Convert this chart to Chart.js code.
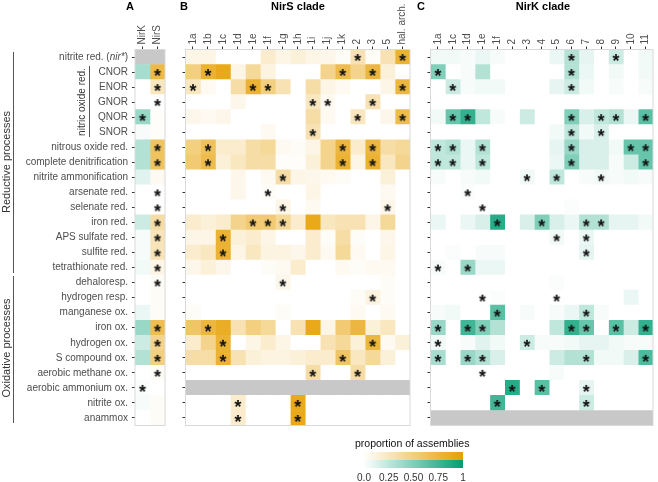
<!DOCTYPE html>
<html>
<head>
<meta charset="utf-8">
<script src="https://cdn.jsdelivr.net/npm/chart.js@4.4.0/dist/chart.umd.min.js"></script>
<style>
  body { margin: 0; background: #fff; font-family: "Liberation Sans", Arial, sans-serif; }
  #wrap { position: relative; width: 658px; height: 482px; overflow: hidden; }
  canvas { position: absolute; top: 0; }
  .txt { position: absolute; white-space: nowrap; line-height: 12px; }
  .title { font-weight: bold; font-size: 11px; color: #000; }
  .side { font-size: 11px; color: #333; transform: translate(-50%, -50%) rotate(-90deg); }
  .vline { position: absolute; width: 1px; background: #555; }
  .bar { position: absolute; left: 357px; width: 106px; height: 8px; }
</style>
</head>
<body>
<div id="wrap">
  <canvas id="panelA" width="170" height="482" style="left:0"></canvas>
  <canvas id="panelB" width="245" height="482" style="left:170px"></canvas>
  <canvas id="panelC" width="243" height="482" style="left:415px"></canvas>

  <div class="txt title" style="left:126px; top:0">A</div>
  <div class="txt title" style="left:180px; top:0">B</div>
  <div class="txt title" style="left:417px; top:0">C</div>
  <div class="txt title" style="left:298px; top:0; transform:translateX(-50%)">NirS clade</div>
  <div class="txt title" style="left:543px; top:0; transform:translateX(-50%)">NirK clade</div>

  <div class="txt side" style="left:6px; top:162px">Reductive processes</div>
  <div class="vline" style="left:13px; top:52px; height:221px"></div>
  <div class="txt side" style="left:6px; top:348px">Oxidative processes</div>
  <div class="vline" style="left:13px; top:276px; height:147px"></div>
  <div class="txt side" style="left:82px; top:102px; font-size:10px">nitric oxide red.</div>
  <div class="vline" style="left:89px; top:66px; height:71px"></div>

  <div class="txt" style="left:355px; top:437px; font-size:10.5px; color:#111">proportion of assemblies</div>
  <div class="bar" style="top:452px; background:linear-gradient(to right, #fff 6%, #E69F00)"></div>
  <div class="bar" style="top:460px; background:linear-gradient(to right, #fff 6%, #009E73)"></div>
  <div id="legendTicks"></div>
</div>

<script>
// rows of every panel
const processes = [
  "nitrite red. (nir*)", "CNOR", "ENOR", "GNOR", "QNOR", "SNOR",
  "nitrous oxide red.", "complete denitrification", "nitrite ammonification",
  "arsenate red.", "selenate red.", "iron red.", "APS sulfate red.", "sulfite red.",
  "tetrathionate red.", "dehaloresp.", "hydrogen resp.", "manganese ox.", "iron ox.",
  "hydrogen ox.", "S compound ox.", "aerobic methane ox.", "aerobic ammonium ox.",
  "nitrite ox.", "anammox"
];

// panel A: NirK / NirS totals (null = not available)
const totalCols = ["NirK", "NirS"];
const nirkTotal = [null, 0.35, 0, 0, 0.4, 0.03, 0.3, 0.3, 0.12, 0, 0, 0.2, 0.03, 0.03, 0.05, 0, 0, 0.08, 0.4, 0.2, 0.3, 0, 0.02, 0.03, 0];
const nirsTotal = [null, 0.72, 0.25, 0, 0.02, 0.02, 0.62, 0.62, 0.05, 0, 0, 0.35, 0.28, 0.28, 0.1, 0.03, 0.03, 0.03, 0.68, 0.45, 0.5, 0.03, 0, 0.03, 0.03];
const nirkTotalStars = ["QNOR", "aerobic ammonium ox."];
const nirsTotalStars = ["CNOR", "ENOR", "GNOR", "nitrous oxide red.", "complete denitrification",
  "arsenate red.", "selenate red.", "iron red.", "APS sulfate red.", "sulfite red.",
  "tetrathionate red.", "dehaloresp.", "iron ox.", "hydrogen ox.", "S compound ox.", "aerobic methane ox."];

// panel B: NirS clades
const nirsClades = ["1a", "1b", "1c", "1d", "1e", "1f", "1g", "1h", "1i", "1j", "1k", "2", "3", "5", "hal. arch."];
const nirsCladeValues = [
  [0.1, 0.1, 0, 0, 0, 0.2, 0.1, 0.15, 0.1, 0.08, 0.03, 0.3, 0.03, 0.3, 0.8],
  [0.5, 0.8, 0.9, 0.1, 0.4, 0.12, 0, 0, 0, 0.45, 0.7, 0.45, 0.75, 0.15, 0],
  [0.25, 0.05, 0, 0.35, 0.8, 0.5, 0.3, 0, 0.35, 0.1, 0.05, 0, 0, 0.1, 0.75],
  [0, 0, 0, 0.08, 0, 0, 0, 0, 0.25, 0.05, 0, 0, 0.3, 0, 0],
  [0.08, 0.05, 0.08, 0, 0, 0, 0, 0, 0.35, 0.05, 0, 0.25, 0, 0.08, 0.7],
  [0, 0, 0, 0, 0, 0.05, 0, 0, 0.3, 0, 0, 0, 0, 0, 0],
  [0.5, 0.65, 0.2, 0.2, 0.35, 0.4, 0.05, 0.03, 0.1, 0.45, 0.75, 0.2, 0.75, 0.35, 0.4],
  [0.55, 0.7, 0.15, 0.25, 0.35, 0.35, 0.02, 0.02, 0.15, 0.45, 0.8, 0.1, 0.8, 0.25, 0.45],
  [0, 0, 0, 0.08, 0, 0.05, 0.35, 0.1, 0.08, 0.05, 0.03, 0, 0, 0.15, 0],
  [0, 0, 0, 0.08, 0, 0.03, 0, 0, 0.1, 0, 0, 0, 0, 0.05, 0],
  [0, 0, 0, 0, 0, 0, 0.1, 0, 0.05, 0, 0, 0, 0, 0.08, 0],
  [0.2, 0.15, 0.2, 0.45, 0.55, 0.55, 0.4, 0.2, 0.9, 0.25, 0.3, 0.3, 0.1, 0.4, 0],
  [0.1, 0.1, 0.8, 0.15, 0.2, 0.1, 0, 0, 0.2, 0.03, 0.35, 0.03, 0, 0.08, 0],
  [0.2, 0.25, 0.8, 0.1, 0.25, 0.12, 0.12, 0.08, 0.2, 0.05, 0.4, 0.05, 0, 0.1, 0],
  [0.08, 0.15, 0.08, 0, 0, 0.03, 0.05, 0.2, 0, 0, 0.05, 0.03, 0.05, 0.05, 0],
  [0, 0, 0, 0, 0, 0, 0.08, 0, 0, 0, 0, 0, 0, 0.03, 0],
  [0, 0, 0, 0, 0, 0, 0, 0, 0, 0, 0, 0.03, 0.12, 0.03, 0],
  [0.03, 0, 0, 0, 0, 0, 0.03, 0, 0, 0, 0, 0.05, 0, 0.05, 0],
  [0.6, 0.75, 0.85, 0.3, 0.5, 0.4, 0, 0.3, 0.9, 0.1, 0.55, 0.75, 0.15, 0.25, 0],
  [0.2, 0.45, 0.8, 0, 0.1, 0.2, 0.1, 0, 0, 0.3, 0.4, 0.15, 0.75, 0.05, 0.15],
  [0.35, 0.35, 0.8, 0.3, 0.15, 0.12, 0.12, 0.15, 0.2, 0.2, 0.6, 0.25, 0.4, 0.15, 0],
  [0, 0, 0, 0, 0, 0, 0, 0, 0.35, 0, 0, 0.35, 0, 0, 0],
  null,
  [0, 0, 0, 0.2, 0, 0, 0, 0.9, 0, 0, 0, 0, 0, 0, 0],
  [0, 0, 0, 0.2, 0, 0, 0, 0.9, 0, 0, 0, 0, 0, 0, 0]
];
const nirsCladeStars = [
  ["2", "hal. arch."], ["1b", "1k", "3"], ["1a", "1e", "1f", "hal. arch."], ["1i", "1j", "3"],
  ["2", "hal. arch."], ["1i"], ["1b", "1k", "3"], ["1b", "1k", "3"], ["1g"], ["1f"], ["1g", "5"],
  ["1e", "1f", "1g"], ["1c"], ["1c"], [], ["1g"], ["3"], [], ["1b"], ["1c", "3"], ["1c", "1k"],
  ["1i", "2"], [], ["1d", "1h"], ["1d", "1h"]
];

// panel C: NirK clades
const nirkClades = ["1a", "1c", "1d", "1e", "1f", "2", "3", "4", "5", "6", "7", "8", "9", "10", "11"];
const nirkCladeValues = [
  [0.05, 0.05, 0.03, 0.08, 0.03, 0, 0, 0, 0.08, 0.3, 0.1, 0, 0.2, 0, 0.05],
  [0.5, 0, 0.03, 0.3, 0, 0, 0, 0, 0, 0.3, 0.08, 0, 0.05, 0, 0.05],
  [0, 0.2, 0.03, 0.05, 0.05, 0, 0, 0, 0.1, 0.2, 0.05, 0, 0.03, 0, 0.03],
  [0, 0, 0, 0, 0, 0, 0, 0, 0, 0, 0, 0, 0, 0, 0],
  [0.05, 0.6, 0.8, 0.25, 0.03, 0, 0.2, 0, 0, 0.5, 0.15, 0.25, 0.3, 0.08, 0.65],
  [0, 0, 0, 0, 0, 0, 0, 0, 0.05, 0.25, 0.05, 0.15, 0, 0, 0],
  [0.25, 0.3, 0.08, 0.3, 0, 0, 0, 0, 0.1, 0.4, 0.15, 0.15, 0.05, 0.6, 0.6],
  [0.25, 0.25, 0.08, 0.25, 0, 0, 0, 0, 0.08, 0.5, 0.15, 0.15, 0.03, 0.2, 0.6],
  [0.03, 0, 0.03, 0.05, 0, 0, 0.05, 0, 0.25, 0, 0.03, 0.05, 0.03, 0.05, 0.03],
  [0, 0, 0.02, 0, 0, 0, 0, 0, 0, 0, 0, 0, 0, 0, 0],
  [0, 0, 0, 0, 0, 0, 0, 0, 0, 0.02, 0, 0, 0, 0, 0],
  [0.08, 0, 0.08, 0.15, 0.85, 0, 0.15, 0.5, 0.15, 0.08, 0.3, 0.3, 0.1, 0.1, 0.05],
  [0, 0, 0, 0, 0, 0, 0, 0, 0.05, 0, 0.08, 0, 0, 0, 0],
  [0, 0.02, 0, 0.03, 0.03, 0, 0, 0, 0, 0, 0.1, 0, 0, 0, 0],
  [0.03, 0, 0.4, 0.08, 0.08, 0, 0, 0, 0, 0, 0, 0, 0, 0, 0],
  [0, 0, 0, 0, 0, 0, 0, 0, 0.02, 0, 0, 0, 0, 0, 0],
  [0, 0, 0, 0, 0.02, 0, 0, 0, 0, 0, 0, 0, 0, 0.08, 0],
  [0.03, 0.05, 0, 0, 0.65, 0, 0.03, 0, 0.03, 0.08, 0.25, 0.03, 0, 0, 0],
  [0.4, 0, 0.75, 0.5, 0.3, 0, 0, 0, 0.25, 0.8, 0.6, 0, 0.65, 0.2, 0.8],
  [0.05, 0, 0.03, 0.12, 0.05, 0, 0.2, 0.03, 0.03, 0.05, 0.1, 0.1, 0.05, 0.03, 0.03],
  [0.35, 0, 0.4, 0.3, 0.15, 0, 0, 0, 0.2, 0.3, 0.3, 0.05, 0.05, 0.15, 0.7],
  [0, 0, 0, 0, 0, 0, 0, 0, 0.03, 0, 0, 0, 0, 0, 0],
  [0, 0, 0, 0, 0, 0.85, 0, 0.65, 0, 0, 0.1, 0, 0, 0, 0],
  [0, 0, 0, 0, 0.75, 0, 0, 0, 0, 0, 0.2, 0, 0, 0, 0],
  null
];
const nirkCladeStars = [
  ["6", "9"], ["1a", "6"], ["1c", "6"], [], ["1c", "1d", "6", "8", "9", "11"], ["6", "8"],
  ["1a", "1c", "1e", "6", "10", "11"], ["1a", "1c", "1e", "6", "11"], ["3", "5", "8"], ["1d"], ["1e"],
  ["1f", "4", "7", "8"], ["5", "7"], ["7"], ["1a", "1d"], [], ["1e", "5"], ["1f", "7"],
  ["1a", "1d", "1e", "6", "7", "9", "11"], ["1a", "3"], ["1a", "1d", "1e", "7", "11"], ["1e"],
  ["2", "4", "7"], ["1f", "7"], []
];

const legendTicks = [0, 0.25, 0.5, 0.75, 1];
const legendLabels = ["0.0", "0.25", "0.50", "0.75", "1"];

const ORANGE = [230, 159, 0];
const GREEN = [0, 158, 115];
const NA_GREY = "#c8c8c8";
const FONT = "'Liberation Sans', Arial, sans-serif";
const LABEL = "#4d4d4d";

function shade(rgb, v) {
  if (v === null || v === undefined) return NA_GREY;
  const c = rgb.map(k => Math.round(255 + (k - 255) * v));
  return "rgb(" + c.join(",") + ")";
}

// asterisk marker
const starImg = document.createElement("canvas");
starImg.width = 12;
starImg.height = 12;
(function () {
  const g = starImg.getContext("2d");
  g.font = "bold 18px " + FONT;
  g.fillStyle = "#111";
  g.textAlign = "center";
  const m = g.measureText("*");
  const h = m.actualBoundingBoxAscent + m.actualBoundingBoxDescent;
  g.fillText("*", 6, 6 - h / 2 + m.actualBoundingBoxAscent);
})();

const frame = {
  id: "frame",
  afterDatasetsDraw(chart) {
    const a = chart.chartArea, g = chart.ctx;
    g.save();
    g.strokeStyle = "#d9d9d9";
    g.lineWidth = 1;
    g.strokeRect(a.left, a.top, a.right - a.left, a.bottom - a.top);
    g.restore();
  }
};

// first row label has an italic part, so it is drawn here at the scale's tick
const italicLabel = {
  id: "italicLabel",
  afterDraw(chart) {
    const y = chart.scales.y, g = chart.ctx;
    const py = y.getPixelForTick(0);
    let x = chart.chartArea.left - 7;
    g.save();
    g.fillStyle = LABEL;
    g.textBaseline = "middle";
    g.textAlign = "right";
    const parts = [["normal", ")"], ["italic", "nir*"], ["normal", "nitrite red. ("]];
    parts.forEach(([style, s]) => {
      g.font = style + " 10px " + FONT;
      g.fillText(s, x, py);
      x -= g.measureText(s).width;
    });
    g.restore();
  }
};

function heatPanel(id, cols, rows, colours, stars, yWidth, padRight, showLabels) {
  const datasets = cols.map((col, c) => ({
    type: "bar",
    label: col,
    data: processes.map(() => [c - 0.5, c + 0.5]),
    backgroundColor: processes.map((p, r) => shade(colours[c], rows[r] === null ? null : rows[r][c])),
    borderWidth: 0,
    barPercentage: 1,
    categoryPercentage: 1,
    grouped: false,
    order: 2
  }));
  const pts = [];
  stars.forEach((list, r) => list.forEach(col => pts.push({ x: cols.indexOf(col), y: processes[r] })));
  datasets.push({
    type: "scatter",
    data: pts,
    pointStyle: starImg,
    order: 0
  });

  new Chart(document.getElementById(id), {
    type: "bar",
    data: { labels: processes, datasets: datasets },
    options: {
      indexAxis: "y",
      responsive: false,
      animation: false,
      events: [],
      layout: { padding: { left: 0, right: padRight, top: 0, bottom: 56.5 } },
      plugins: { legend: { display: false }, tooltip: { enabled: false } },
      scales: {
        x: {
          type: "linear",
          position: "top",
          min: -0.5,
          max: cols.length - 0.5,
          afterBuildTicks: s => { s.ticks = cols.map((c, i) => ({ value: i })); },
          afterFit: s => { s.height = 49.5; },
          ticks: {
            autoSkip: false,
            minRotation: 90,
            maxRotation: 90,
            padding: 2,
            labelOffset: 12,
            color: LABEL,
            font: { family: FONT, size: 10 },
            callback: v => cols[Math.round(v)]
          },
          grid: { drawOnChartArea: false, drawTicks: true, tickLength: 3, color: "#333" },
          border: { display: false }
        },
        y: {
          type: "category",
          offset: true,
          afterFit: s => { s.width = yWidth; },
          ticks: {
            autoSkip: false,
            padding: 4,
            color: LABEL,
            font: { family: FONT, size: 10 },
            callback: (v, i) => showLabels && i > 0 ? processes[i] : ""
          },
          grid: { offset: false, drawOnChartArea: false, drawTicks: true, tickLength: 3, color: "#333" },
          border: { display: false }
        }
      }
    },
    plugins: showLabels ? [frame, italicLabel] : [frame]
  });
}

// panel A rows built from the two total columns
const totalRows = processes.map((p, r) => [nirkTotal[r], nirsTotal[r]]);
const totalStars = processes.map(p => {
  const s = [];
  if (nirkTotalStars.includes(p)) s.push("NirK");
  if (nirsTotalStars.includes(p)) s.push("NirS");
  return s;
});

heatPanel("panelA", totalCols, totalRows, [GREEN, ORANGE], totalStars, 135, 3, true);
heatPanel("panelB", nirsClades, nirsCladeValues, nirsClades.map(() => ORANGE), nirsCladeStars, 15.5, 3.5, false);
heatPanel("panelC", nirkClades, nirkCladeValues, nirkClades.map(() => GREEN), nirkCladeStars, 15.5, 2.5, false);

// colour bar labels
const tickBox = document.getElementById("legendTicks");
legendTicks.forEach((t, i) => {
  const d = document.createElement("div");
  d.className = "txt";
  d.style.cssText = "top:472px; font-size:10px; color:#333; transform:translateX(-50%); left:" + (364 + 99 * t) + "px";
  d.textContent = legendLabels[i];
  tickBox.appendChild(d);
});
</script>
</body>
</html>
